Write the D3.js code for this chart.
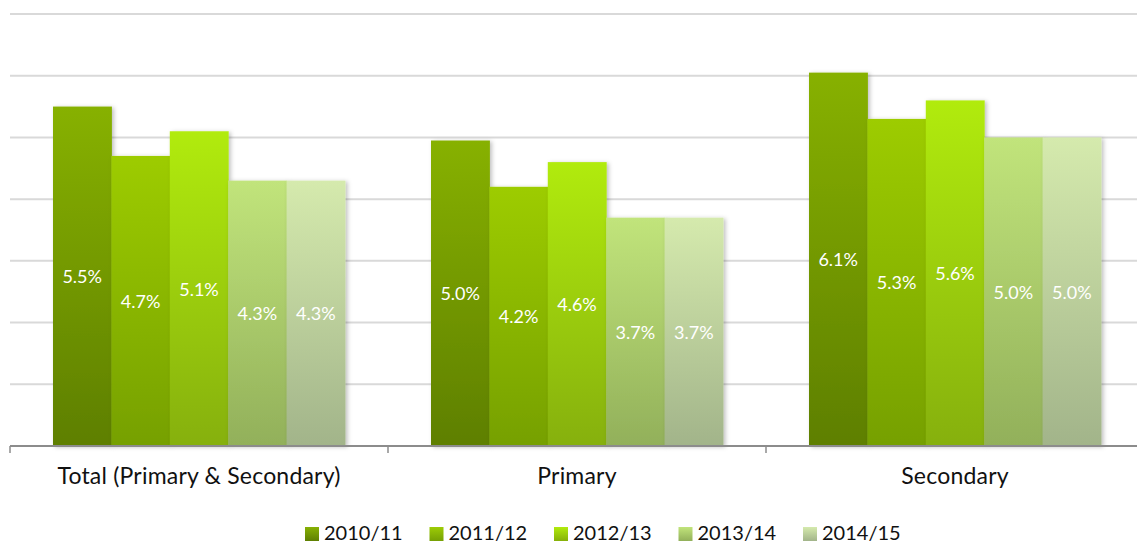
<!DOCTYPE html>
<html lang="en">
<head>
<meta charset="UTF-8">
<title>Rates by phase</title>
<script src="https://d3js.org/d3.v7.min.js"></script>
<style>
  html, body { margin: 0; background: #fff; }
  svg text { font-family: Lato, "Open Sans", sans-serif; }
  .grid line { stroke: #d9d9d9; stroke-width: 2; }
  .barlabel { fill: #fff; font-size: 18px; text-anchor: middle; }
  .cat { fill: #111; font-size: 23px; text-anchor: middle; letter-spacing: 0.2px; }
  .leg { fill: #111; font-size: 20px; }
</style>
</head>
<body>
<div id="chart"></div>
<script>
// data
var categories = ["Total (Primary & Secondary)", "Primary", "Secondary"];
var years = ["2010/11", "2011/12", "2012/13", "2013/14", "2014/15"];
var values = {
  "2010/11": [5.5, 4.95, 6.05],
  "2011/12": [4.7, 4.2, 5.3],
  "2012/13": [5.1, 4.6, 5.6],
  "2013/14": [4.3, 3.7, 5.0],
  "2014/15": [4.3, 3.7, 5.0]
};
var yTicks = [0, 1, 2, 3, 4, 5, 6, 7];
// top / bottom gradient colours per series
var colTop = ["#87b104", "#9dcc06", "#b1eb0c", "#c1e47b", "#d5eaad"];
var colBot = ["#5e7f02", "#76a004", "#86b009", "#92b05a", "#a2b48a"];

var W = 1137, H = 543;
var margin = {top: 14, left: 10};
var width = 1134;          // last band runs a little past the page edge
var height = 432;
var fmt = function(v) { return d3.format(".1f")(v + 1e-9) + "%"; };

var svg = d3.select("#chart").append("svg")
  .attr("width", W).attr("height", H);

var defs = svg.append("defs");
years.forEach(function(y, i) {
  var g = defs.append("linearGradient")
    .attr("id", "grad" + i)
    .attr("x1", 0).attr("y1", 0).attr("x2", 0).attr("y2", 1);
  g.append("stop").attr("offset", "0%").attr("stop-color", colTop[i]);
  g.append("stop").attr("offset", "100%").attr("stop-color", colBot[i]);
});
var f = defs.append("filter").attr("id", "shadow")
  .attr("x", "-20%").attr("y", "-20%").attr("width", "140%").attr("height", "140%");
f.append("feDropShadow").attr("dx", 2).attr("dy", 1).attr("stdDeviation", 2)
  .attr("flood-color", "#000").attr("flood-opacity", 0.25);

var g = svg.append("g").attr("transform", "translate(" + margin.left + "," + margin.top + ")");

var x0 = d3.scaleBand().domain(categories).range([0, width]);
var x1 = d3.scaleBand().domain(years).range([43, x0.bandwidth() - 43]);
var y = d3.scaleLinear().domain([0, 7]).range([height, 0]);

// gridlines
g.append("g").attr("class", "grid")
  .selectAll("line").data(yTicks.slice(1)).enter().append("line")
  .attr("x1", 0).attr("x2", W)
  .attr("y1", function(d) { return y(d); })
  .attr("y2", function(d) { return y(d); });

// bars
var groups = g.selectAll(".grp").data(categories).enter().append("g")
  .attr("class", "grp")
  .attr("transform", function(d) { return "translate(" + x0(d) + ",0)"; });

groups.each(function(cat, ci) {
  var sel = d3.select(this);
  var rows = years.map(function(yr, i) { return {yr: yr, i: i, v: values[yr][ci]}; });
  sel.selectAll("rect").data(rows).enter().append("rect")
    .attr("x", function(d) { return x1(d.yr); })
    .attr("y", function(d) { return y(d.v); })
    .attr("width", x1.bandwidth() + 0.5)
    .attr("height", function(d) { return height - y(d.v); })
    .attr("fill", function(d) { return "url(#grad" + d.i + ")"; })
    .attr("filter", "url(#shadow)");
  sel.selectAll("text").data(rows).enter().append("text")
    .attr("class", "barlabel")
    .attr("x", function(d) { return x1(d.yr) + x1.bandwidth() / 2; })
    .attr("y", function(d) { return (y(d.v) + height) / 2 + 7; })
    .text(function(d) { return fmt(d.v); });
});

// x axis
var axis = g.append("g").attr("transform", "translate(0," + height + ")");
axis.append("line").attr("x1", 0).attr("x2", W).attr("y1", 0).attr("y2", 0)
  .attr("stroke", "#8c8c8c").attr("stroke-width", 2);
var bounds = categories.map(function(c) { return x0(c); });
axis.selectAll(".tk").data(bounds).enter().append("line")
  .attr("x1", function(d) { return d; }).attr("x2", function(d) { return d; })
  .attr("y1", 0).attr("y2", 7)
  .attr("stroke", "#8c8c8c").attr("stroke-width", 1.5);
axis.selectAll(".cat").data(categories).enter().append("text")
  .attr("class", "cat")
  .attr("x", function(d) { return x0(d) + x0.bandwidth() / 2; })
  .attr("y", 38)
  .text(function(d) { return d; });

// legend
var legX = d3.scalePoint().domain(years).range([305, 803]);
var leg = svg.append("g").attr("transform", "translate(0,526)");
var li = leg.selectAll("g").data(years).enter().append("g")
  .attr("transform", function(d) { return "translate(" + legX(d) + ",0)"; });
li.append("rect").attr("x", 0).attr("y", 1).attr("width", 14).attr("height", 14)
  .attr("fill", function(d, i) { return "url(#grad" + i + ")"; });
li.append("text").attr("class", "leg").attr("x", 19).attr("y", 14)
  .text(function(d) { return d; });
</script>
</body>
</html>
